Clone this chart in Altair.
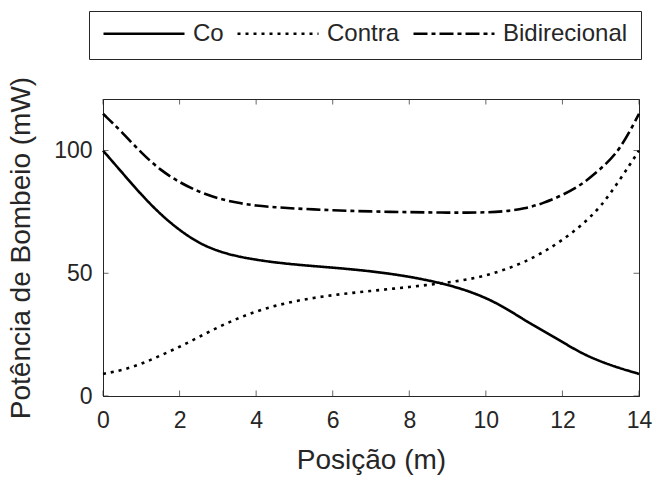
import altair as alt
import pandas as pd

# ---- data ----
pos = [0, 0.5, 1, 1.5, 2, 2.5, 3, 3.5, 4, 4.5, 5, 5.5, 6, 6.5, 7, 7.5,
       8, 8.5, 9, 9.5, 10, 10.5, 11, 11.5, 12, 12.5, 13, 13.5, 14]
co = [100, 91.0, 82.0, 74.0, 67.5, 62.3, 59.0, 56.9, 55.5, 54.4, 53.6, 52.9,
      52.3, 51.6, 50.8, 49.8, 48.6, 47.1, 45.3, 43.0, 40.0, 36.0, 31.0, 26.5,
      22.0, 17.4, 14.0, 11.3, 9.0]
contra = [9, 10.5, 13, 16.5, 20, 24, 28, 31.5, 34.5, 36.8, 38.6, 40.0, 41.1,
          42.0, 42.8, 43.6, 44.4, 45.3, 46.2, 47.4, 49.0, 51.5, 54.5, 58.5,
          63.5, 69.5, 77.0, 88.0, 100]
bidirecional = [115, 107.5, 99.0, 92.0, 87.0, 83.2, 80.5, 78.7, 77.5, 76.9,
                76.4, 76.0, 75.7, 75.4, 75.2, 75.0, 74.9, 74.8, 74.7, 74.7,
                74.8, 75.2, 76.3, 78.5, 81.8, 86.0, 92.5, 100.0, 115]
series_names = ["Co", "Contra", "Bidirecional"]
x_ticks = [0, 2, 4, 6, 8, 10, 12, 14]
y_ticks = [0, 50, 100]

rows = []
for name, vals in zip(series_names, [co, contra, bidirecional]):
    for p, v in zip(pos, vals):
        rows.append({"pos": p, "val": v, "serie": name})
df = pd.DataFrame(rows)
xt = pd.DataFrame({"pos": x_ticks})
yt = pd.DataFrame({"val": y_ticks})

W, H = 536, 297
FONT = "Liberation Sans"
INK = "#262626"

xscale = alt.Scale(domain=[0, 14], nice=False, zero=False)
yscale = alt.Scale(domain=[0, 121], nice=False)
dashes = [[1, 0], [3, 5], [14, 4, 4, 4]]

xaxis = alt.Axis(title="Posição (m)", values=x_ticks, labelPadding=13,
                 titlePadding=14, labelFlush=False)
yaxis = alt.Axis(title="Potência de Bombeio (mW)", values=y_ticks,
                 labelPadding=11, titlePadding=18, labelFlush=False)

lines = alt.Chart(df).mark_line(
    strokeWidth=2.6, color="black", interpolate="basis", strokeCap="butt"
).encode(
    x=alt.X("pos:Q", scale=xscale, axis=xaxis),
    y=alt.Y("val:Q", scale=yscale, axis=yaxis),
    strokeDash=alt.StrokeDash(
        "serie:N",
        scale=alt.Scale(domain=series_names, range=dashes),
        legend=alt.Legend(
            title=None, orient="none", legendX=-14, legendY=-88,
            direction="horizontal", columns=3, symbolType="stroke",
            symbolSize=6561, symbolStrokeWidth=2.6, symbolStrokeColor="black",
            clipHeight=19, labelFont=FONT, labelFontSize=24, labelColor=INK,
            labelOffset=7, columnPadding=12, padding=13,
            strokeColor=INK, fillColor="white",
        ),
    ),
)

tick_style = dict(color=INK, thickness=1, size=5.5)
xb = alt.Chart(xt).mark_tick(**tick_style).encode(
    x=alt.X("pos:Q", scale=xscale, axis=xaxis), y=alt.value(H - 2.75))
xtop = alt.Chart(xt).mark_tick(**tick_style).encode(
    x=alt.X("pos:Q", scale=xscale, axis=xaxis), y=alt.value(2.75))
yl = alt.Chart(yt).mark_tick(**tick_style).encode(
    y=alt.Y("val:Q", scale=yscale, axis=yaxis), x=alt.value(2.75))
yr = alt.Chart(yt).mark_tick(**tick_style).encode(
    y=alt.Y("val:Q", scale=yscale, axis=yaxis), x=alt.value(W - 2.75))

chart = alt.layer(lines, xb, xtop, yl, yr).properties(
    width=W, height=H,
    padding={"left": 103, "top": 99, "right": 17, "bottom": 85},
    autosize=alt.AutoSizeParams(type="none"),
).configure_view(
    stroke=INK, strokeWidth=1
).configure_axis(
    labelFont=FONT, titleFont=FONT, labelFontSize=23, titleFontSize=28,
    labelColor=INK, titleColor=INK, domainColor=INK, domainWidth=1,
    ticks=False, grid=False, titleFontWeight="normal",
)

chart.save("out.html", embed_options={"renderer": "svg", "actions": False})
